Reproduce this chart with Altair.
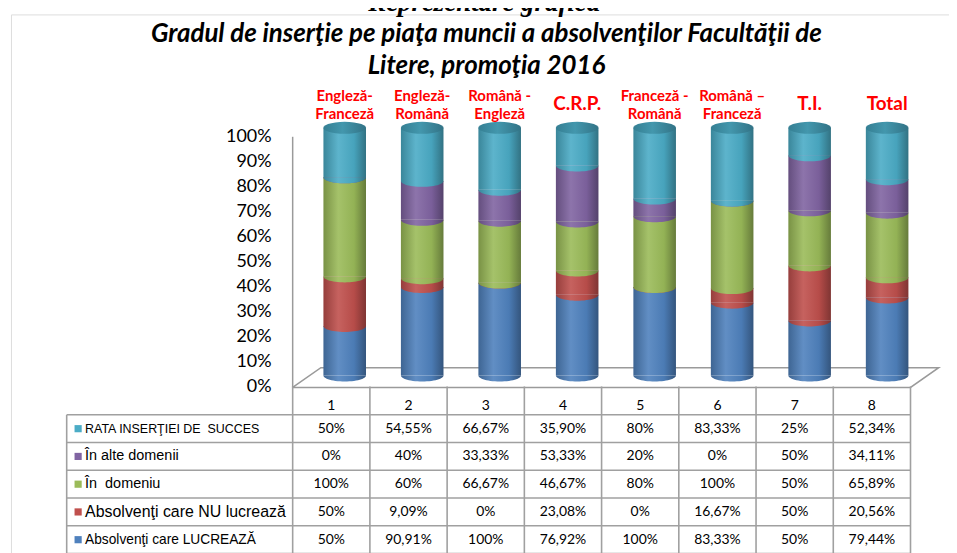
import math
import altair as alt
import pandas as pd

# ---------------- data ----------------
columns = [1, 2, 3, 4, 5, 6, 7, 8]
top_labels = ["Engleză-\nFranceză", "Engleză-\nRomână", "Română -\nEngleză", "C.R.P.",
              "Franceză -\nRomână", "Română –\nFranceză", "T.I.", "Total"]
big_label_cols = [4, 7, 8]

# series, bottom of the stack to top
series_names = ["Absolvenţi care LUCREAZĂ", "Absolvenţi care NU lucrează",
                "În\u00a0 domeniu", "În alte domenii", "RATA INSERŢIEI DE\u00a0 SUCCES"]
lucreaza = [50, 90.91, 100, 76.92, 100, 83.33, 50, 79.44]
nu_lucreaza = [50, 9.09, 0, 23.08, 0, 16.67, 50, 20.56]
in_domeniu = [100, 60, 66.67, 46.67, 80, 100, 50, 65.89]
alte_domenii = [0, 40, 33.33, 53.33, 20, 0, 50, 34.11]
rata_insertiei = [50, 54.55, 66.67, 35.90, 80, 83.33, 25, 52.34]
series_values = [lucreaza, nu_lucreaza, in_domeniu, alte_domenii, rata_insertiei]
table_order = [4, 3, 2, 1, 0]  # table rows, top to bottom

y_ticks = [0, 10, 20, 30, 40, 50, 60, 70, 80, 90, 100]
title_text = "Gradul de inserţie pe piaţa muncii a absolvenţilor Facultăţii de\nLitere, promoţia 2016"
caption_text = "Reprezentare grafică"

# ---------------- styles ----------------
base_colors = ["#4F81BD", "#C0504D", "#9BBB59", "#8064A2", "#4BACC6"]
legend_sizes = [12.5, 14.5, 14.5, 16, 13.8]  # table rows, top to bottom


def shade(hex_color, f):
    r, g, b = (int(hex_color[i:i + 2], 16) for i in (1, 3, 5))
    if f >= 1:
        t = f - 1
        r, g, b = (c + (255 - c) * t for c in (r, g, b))
    else:
        r, g, b = (c * f for c in (r, g, b))
    return "#%02x%02x%02x" % tuple(int(max(0, min(255, round(c)))) for c in (r, g, b))


def grad(c):
    return alt.Gradient(gradient="linear", x1=0, x2=1, y1=0, y2=0, stops=[
        alt.GradientStop(offset=0, color=shade(c, 0.78)),
        alt.GradientStop(offset=0.35, color=shade(c, 1.1)),
        alt.GradientStop(offset=0.72, color=shade(c, 0.95)),
        alt.GradientStop(offset=1, color=shade(c, 0.66)),
    ])


cap_grad = alt.Gradient(gradient="linear", x1=0, x2=1, y1=0, y2=0, stops=[
    alt.GradientStop(offset=0, color="#357f93"),
    alt.GradientStop(offset=0.45, color="#4397ad"),
    alt.GradientStop(offset=1, color="#327386"),
])

# ---------------- layout ----------------
PAD_L, PAD_T = 3, 5
W, H = 943, 548
OX, OY = 8 + PAD_L, 8 + PAD_T


def dom_x(a, b):
    return [(OX - a) / b, (OX + W - a) / b]


def dom_y_up(a, b):
    return [(a - (OY + H)) / b, (a - OY) / b]


# table / axis columns: page_x = 255.36 + 77.64*u
SX_T = alt.Scale(domain=dom_x(255.36, 77.64), nice=False, zero=False)
# cylinders (3-D depth shifted): page_x = 268.6 + 77.9*u
SX_B = alt.Scale(domain=dom_x(268.6, 77.9), nice=False, zero=False)
# percent axis: page_y = 388 - 2.52*p
SY_P = alt.Scale(domain=dom_y_up(388, 2.52), nice=False, zero=False)
# cylinders fraction: page_y = 376 - 249*f
SY_B = alt.Scale(domain=dom_y_up(376, 249), nice=False, zero=False)
# table rows: page_y = 415.5 + 27.9*t (downwards)
SY_T = alt.Scale(domain=[(OY - 415.5) / 27.9, (OY + H - 415.5) / 27.9], nice=False, zero=False, reverse=True)

HALF = 0.2747
SYM = (2 * HALF * 77.9) ** 2
RY = 0.28


def ellipse_path(full):
    n = 28
    pts = []
    end = 2 * math.pi if full else math.pi
    for k in range(n + 1):
        th = end * k / n
        pts.append((math.cos(th), RY * math.sin(th)))
    s = "M" + " L".join(f"{x:.4f},{y:.4f}" for x, y in pts) + " Z"
    return s


HALF_PATH = ellipse_path(False)
FULL_PATH = ellipse_path(True)

# ---------------- group P: axis, floor, titles ----------------
tick_df = pd.DataFrame({"p": y_ticks, "lab": [f"{v}%" for v in y_ticks]})
tick_labels = alt.Chart(tick_df).transform_calculate(u="0.227").mark_text(
    align="right", baseline="middle", font="Lato", fontSize=18, color="#000000"
).encode(x=alt.X("u:Q", scale=SX_T, axis=None), y=alt.Y("p:Q", scale=SY_P, axis=None), text="lab:N")

axis_line = alt.Chart(pd.DataFrame({"u": [0.5], "p0": [0], "p1": [100]})).mark_rule(
    color="#9a9a9a", strokeWidth=1.5
).encode(x=alt.X("u:Q", scale=SX_T, axis=None), y=alt.Y("p0:Q", scale=SY_P, axis=None), y2="p1:Q")

DX, DP = 0.365, 7.9
floor_df = pd.DataFrame({
    "u": [0.5, 0.5 + DX, 8.5 + DX, 8.5, 0.5],
    "p": [0, DP, DP, 0, 0],
    "k": [0, 1, 2, 3, 4],
})
floor = alt.Chart(floor_df).mark_line(color="#9a9a9a", strokeWidth=1.5).encode(
    x=alt.X("u:Q", scale=SX_T, axis=None), y=alt.Y("p:Q", scale=SY_P, axis=None), order="k:O")

title = alt.Chart(pd.DataFrame({"t": [title_text]})).transform_calculate(u="3.009", p="140.9").mark_text(
    align="center", baseline="middle", font="Lato", fontSize=26, fontWeight="bold", fontStyle="italic",
    lineBreak="\n", lineHeight=32, color="#000000"
).encode(x=alt.X("u:Q", scale=SX_T, axis=None), y=alt.Y("p:Q", scale=SY_P, axis=None), text="t:N")

caption = alt.Chart(pd.DataFrame({"t": [caption_text]})).transform_calculate(u="2.98", p="150.2").mark_text(
    align="center", baseline="alphabetic", font="Liberation Serif", fontSize=27, fontWeight="bold",
    fontStyle="italic", color="#000000"
).encode(x=alt.X("u:Q", scale=SX_T, axis=None), y=alt.Y("p:Q", scale=SY_P, axis=None), text="t:N")

group_p = alt.layer(floor, axis_line, tick_labels, title, caption)

# ---------------- group B: cylinders ----------------
rows = []
for s, vals in enumerate(series_values):
    for c, v in zip(columns, vals):
        rows.append({"col": c, "order": s, "value": v})
bars_df = pd.DataFrame(rows)

base = alt.Chart(bars_df).transform_stack(
    stack="value", groupby=["col"], as_=["f0", "f1"], offset="normalize",
    sort=[alt.SortField("order", order="ascending")]
).transform_calculate(xl=f"datum.col - {HALF}", xr=f"datum.col + {HALF}")

bar_layers = []
for s in range(len(series_names)):
    seg = base.transform_filter(alt.datum.order == s)
    g = grad(base_colors[s])
    bar_layers.append(seg.mark_rect(color=g, strokeWidth=0).encode(
        x=alt.X("xl:Q", scale=SX_B, axis=None), x2="xr:Q",
        y=alt.Y("f0:Q", scale=SY_B, axis=None), y2="f1:Q"))
    bar_layers.append(seg.mark_point(shape=HALF_PATH, size=SYM, filled=True, color=g,
                                     opacity=1, strokeWidth=0).encode(
        x=alt.X("col:Q", scale=SX_B, axis=None), y=alt.Y("f0:Q", scale=SY_B, axis=None)))

cap = base.transform_filter(alt.datum.order == len(series_names) - 1).mark_point(
    shape=FULL_PATH, size=SYM, filled=True, color=cap_grad, opacity=1, strokeWidth=0
).encode(x=alt.X("col:Q", scale=SX_B, axis=None), y=alt.Y("f1:Q", scale=SY_B, axis=None))

lab_df = pd.DataFrame({"col": columns, "lab": top_labels,
                       "big": [c in big_label_cols for c in columns]})
labels_small = alt.Chart(lab_df).transform_filter("!datum.big").transform_calculate(f="1.1285").mark_text(
    align="center", baseline="middle", font="Lato", fontSize=15, fontWeight="bold",
    color="#ff0000", lineBreak="\n", lineHeight=18
).encode(x=alt.X("col:Q", scale=SX_B, axis=None), y=alt.Y("f:Q", scale=SY_B, axis=None), text="lab:N")
labels_big = alt.Chart(lab_df).transform_filter("datum.big").transform_calculate(f="1.096").mark_text(
    align="center", baseline="middle", font="Lato", fontSize=19, fontWeight="bold", color="#ff0000"
).encode(x=alt.X("col:Q", scale=SX_B, axis=None), y=alt.Y("f:Q", scale=SY_B, axis=None), text="lab:N")

group_b = alt.layer(*bar_layers, cap, labels_small, labels_big)

# ---------------- group T: data table ----------------
U_LEFT = (67 - 255.36) / 77.64
U_SQ = (78.5 - 255.36) / 77.64
U_TXT = (85.5 - 255.36) / 77.64
T_TOP = (387 - 415.5) / 27.9
T_END = 5.4
GRID = "#a0a0a0"

hl_df = pd.DataFrame({"t": [0, 1, 2, 3, 4, 5], "x0": U_LEFT, "x1": 8.5})
hlines = alt.Chart(hl_df).mark_rule(color=GRID, strokeWidth=1.6).encode(
    x=alt.X("x0:Q", scale=SX_T, axis=None), x2="x1:Q", y=alt.Y("t:Q", scale=SY_T, axis=None))

vl_df = pd.DataFrame({"u": [c - 0.5 for c in columns] + [8.5, U_LEFT],
                      "t0": [T_TOP] * 9 + [0], "t1": [T_END] * 10})
vlines = alt.Chart(vl_df).mark_rule(color=GRID, strokeWidth=1.6).encode(
    x=alt.X("u:Q", scale=SX_T, axis=None), y=alt.Y("t0:Q", scale=SY_T, axis=None), y2="t1:Q")

hdr_df = pd.DataFrame({"col": columns, "lab": [str(c) for c in columns]})
header = alt.Chart(hdr_df).transform_calculate(t="-0.33").mark_text(
    align="center", baseline="middle", font="Lato", fontSize=14, color="#000000"
).encode(x=alt.X("col:Q", scale=SX_T, axis=None), y=alt.Y("t:Q", scale=SY_T, axis=None), text="lab:N")


def fmt_pct(v):
    if abs(v - round(v)) < 1e-9:
        return f"{int(round(v))}%"
    return f"{v:.2f}".replace(".", ",") + "%"


val_rows = []
leg_rows = []
for r, s in enumerate(table_order):
    leg_rows.append({"row": r, "name": series_names[s], "t": r + 0.5})
    for c, v in zip(columns, series_values[s]):
        val_rows.append({"col": c, "t": r + 0.5, "lab": fmt_pct(v)})
values = alt.Chart(pd.DataFrame(val_rows)).mark_text(
    align="center", baseline="middle", font="Lato", fontSize=14, color="#000000"
).encode(x=alt.X("col:Q", scale=SX_T, axis=None), y=alt.Y("t:Q", scale=SY_T, axis=None), text="lab:N")

leg_df = pd.DataFrame(leg_rows)
legend_sq = alt.Chart(leg_df).transform_calculate(u=str(U_SQ)).mark_square(
    size=52, opacity=1, filled=True, strokeWidth=0
).encode(
    x=alt.X("u:Q", scale=SX_T, axis=None), y=alt.Y("t:Q", scale=SY_T, axis=None),
    color=alt.Color("name:N", scale=alt.Scale(domain=series_names, range=base_colors), legend=None))

legend_texts = []
for r in range(len(table_order)):
    legend_texts.append(alt.Chart(leg_df).transform_filter(alt.datum.row == r).transform_calculate(
        u=str(U_TXT)).mark_text(
        align="left", baseline="middle", font="Liberation Sans", fontSize=legend_sizes[r], color="#000000"
    ).encode(x=alt.X("u:Q", scale=SX_T, axis=None), y=alt.Y("t:Q", scale=SY_T, axis=None), text="name:N"))

group_t = alt.layer(hlines, vlines, legend_sq, *legend_texts, header, values)

chart = alt.layer(group_p, group_b, group_t).resolve_scale(
    x="independent", y="independent", color="independent"
).properties(
    width=W, height=H, autosize="none",
    padding={"left": PAD_L, "top": PAD_T, "right": 0, "bottom": 0}
).configure_view(stroke="#8c8c8c", strokeWidth=2).configure(background="#ffffff")

chart.save("out.html", embed_options={"renderer": "svg", "actions": False})
